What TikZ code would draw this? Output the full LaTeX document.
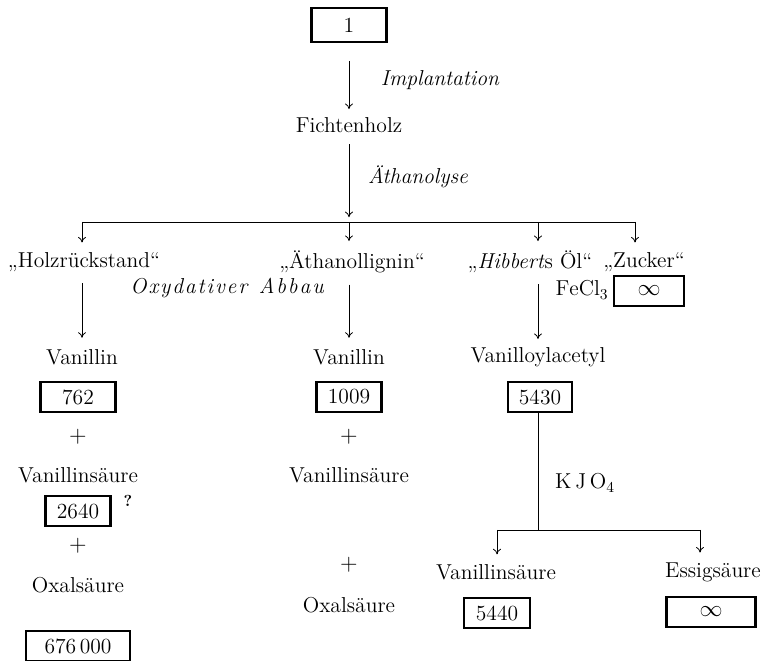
\documentclass[tikz,border=0pt]{standalone}
\usepackage{fontspec}
\usetikzlibrary{arrows.meta,positioning,calc}
\newcommand\grundschrift{\fontsize{13.5}{16}\selectfont}
\makeatletter
\newcommand\gesperrt[1]{\@tfor\zeichen:=#1\do{\zeichen\kern1.2pt}}
\makeatother
\tikzset{
  stoff/.style   = {inner sep=1pt},
  wert/.style    = {draw, line width=1.5pt, minimum height=0.66cm, inner sep=2pt},
  reakt/.style   = {font=\grundschrift\itshape},
  pfeil/.style   = {-{To[length=3.5pt,width=5pt]}, semithin},
  semithin/.style= {line width=0.5pt},
  linie/.style   = {semithin}
}

\begin{document}
\begin{tikzpicture}[x=0.022cm, y=-0.022cm, font=\grundschrift]
    \useasboundingbox (0,0) rectangle (773,661);
    % Ausgangsstufe
    \node[wert, minimum width=1.65cm, minimum height=0.75cm] (eins) at (349,25) {1};
    \node[stoff] (fichte) at (349,125) {Fichtenholz};
    \node[reakt] (impl) at (440,80) {Implantation};
    \draw[pfeil, shorten <=11pt, shorten >=4pt] (eins) -- (fichte);
    \node[reakt] (aeth) at (418,177) {Äthanolyse};
    \coordinate (gabel) at (349,222);
    \draw[pfeil, shorten <=6pt, shorten >=3pt] (fichte) -- (gabel);
    % Fraktionen
    \node[stoff] (holz)   at (84,262)  {„Holzrückstand“};
    \node[stoff] (lignin) at (352,262) {„Äthanollignin“};
    \node[stoff] (oel)    at (530,262) {„\textit{Hibbert}s Öl“};
    \node[stoff] (zucker) at (644,262) {„Zucker“};
    \draw[linie] (82,222) -- (635,222);
    \foreach \x/\ziel in {82/holz, 349/lignin, 538/oel, 635/zucker}
      \draw[pfeil, shorten >=5pt] (\x,222) -- (\ziel.north -| \x,0);
    \node[wert, minimum width=1.55cm] (zinf) at (649,291) {$\infty$};
    % linke Spalte
    \node[stoff] (van1) at (82,357) {Vanillin};
    \draw[pfeil, shorten <=6pt, shorten >=6pt] (holz.south -| van1) -- (van1);
    \node[reakt] (abbau) at (228,288) {\gesperrt{Oxydativer}\hspace{0.45em}\gesperrt{Abbau}};
    \node[wert, minimum width=1.65cm] (w762) at (78,397) {762};
    \node (plus1) at (78,437) {$+$};
    \node[stoff] (vs1) at (78,475) {Vanillinsäure};
    \node[wert, minimum width=1.43cm] (w2640) at (78,511) {2640};
    \node[font=\fontsize{10}{12}\selectfont\bfseries] (frage) at (128,501) {?};
    \node (plus2) at (78,546) {$+$};
    \node[stoff] (ox1) at (78,585) {Oxalsäure};
    \node[wert, minimum width=2.3cm] (w676) at (78,646) {676\,000};
    % mittlere Spalte
    \node[stoff] (van2) at (349,357) {Vanillin};
    \draw[pfeil, shorten <=6pt, shorten >=6pt] (lignin.south -| van2) -- (van2);
    \node[wert, minimum width=1.43cm] (w1009) at (349,397) {1009};
    \node (plus3) at (349,437) {$+$};
    \node[stoff] (vs2) at (349,475) {Vanillinsäure};
    \node (plus4) at (349,565) {$+$};
    \node[stoff] (ox2) at (349,605) {Oxalsäure};
    % rechte Spalte
    \node[stoff] (vacetyl) at (538,357) {Vanilloylacetyl};
    \draw[pfeil, shorten <=6pt, shorten >=4pt] (oel.south -| vacetyl) -- (vacetyl);
    \node[anchor=west] (fecl) at (550,290) {$\mathrm{FeCl_3}$};
    \node[wert, minimum width=1.41cm] (w5430) at (540,397) {5430};
    \coordinate (gabel2) at (538,530);
    \draw[linie] (w5430.south -| gabel2) -- (gabel2);
    \node (kjo) at (585,483) {$\mathrm{K\,J\,O_4}$};
    \draw[linie] (497,530) -- (700,530);
    \node[stoff] (vs3)  at (496,572) {Vanillinsäure};
    \node[stoff] (essig) at (713,572) {Essigsäure};
    \draw[pfeil, shorten >=5pt] (497,530) -- (vs3.north -| 497,0);
    \draw[pfeil, shorten >=5pt] (700,530) -- (essig.north -| 700,0);
    \node[wert, minimum width=1.45cm] (w5440) at (497,613) {5440};
    \node[wert, minimum width=1.95cm] (einf) at (711,612) {$\infty$};
  \end{tikzpicture}
\end{document}
